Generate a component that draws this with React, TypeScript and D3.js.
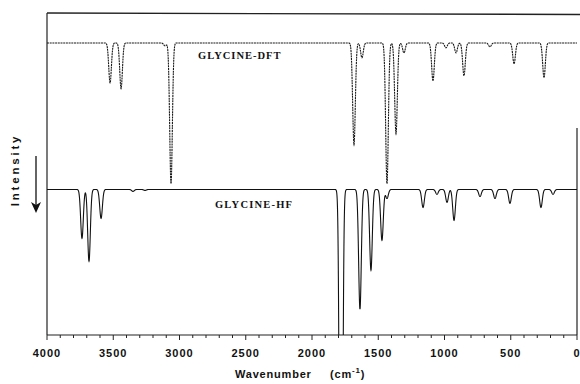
import React from "react";
import * as d3 from "d3";

// peak positions (cm-1) and depths (intensity units)
const dftWavenumbers = [3524, 3441, 3109, 3064, 1683, 1623, 1434, 1366, 1306, 1087, 989, 913, 853, 657, 475, 249];
const dftDepths = [12.4, 14.2, 0.9, 43.7, 31.6, 4.6, 43.7, 28.2, 3.1, 11.8, 1.5, 3.1, 10.2, 1.2, 6.5, 10.8];

const hfWavenumbers = [3736, 3683, 3592, 3351, 3260, 1781, 1638, 1555, 1472, 1434, 1162, 1057, 981, 928, 732, 619, 506, 272, 181];
const hfDepths = [15.2, 22.3, 9.0, 0.6, 0.3, 200, 37.2, 25.1, 15.8, 2.8, 5.6, 1.5, 4.0, 9.6, 2.2, 2.8, 4.3, 5.6, 1.5];

const dftBaseline = 90.7;
const hfBaseline = 45.2;

const xTickLabels = [4000, 3500, 3000, 2500, 2000, 1500, 1000, 500, 0];

const width = 580;
const height = 384;
const margin = { top: 13, right: 3, bottom: 49, left: 47 };
const sigma = 10; // band width, cm-1

function spectrum(centers: number[], depths: number[], baseline: number) {
  const pts: [number, number][] = [];
  for (let w = 4000; w >= 0; w -= 1) {
    let v = baseline;
    centers.forEach((c, i) => {
      const d = w - c;
      v -= depths[i] * Math.exp(-(d * d) / (2 * sigma * sigma));
    });
    pts.push([w, v]);
  }
  return pts;
}

export default function App() {
  const x = d3.scaleLinear().domain([4000, 0]).range([margin.left, width - margin.right]);
  const y = d3.scaleLinear().domain([0, 100]).range([height - margin.bottom, margin.top]);
  const x0 = margin.left;
  const x1 = width - margin.right;
  const yTop = margin.top;
  const yBot = height - margin.bottom;

  const line = d3
    .line<[number, number]>()
    .x(d => x(d[0]))
    .y(d => y(d[1]));

  const dftPath = line(spectrum(dftWavenumbers, dftDepths, dftBaseline)) || "";
  const hfPath = line(spectrum(hfWavenumbers, hfDepths, hfBaseline)) || "";

  const minorTicks = d3.range(0, 4001, 100);

  return (
    <svg
      width={width}
      height={height}
      style={{ position: "fixed", left: 0, top: 0, background: "#fff" }}
    >
      <defs>
        <clipPath id="plot">
          <rect x={x0} y={yTop} width={x1 - x0} height={yBot - yTop} />
        </clipPath>
      </defs>

      {/* frame */}
      <line x1={x0} x2={width} y1={yTop} y2={yTop + 1.5} stroke="#222" strokeWidth={1.4} />
      <line x1={x0} x2={x0} y1={yTop} y2={yBot} stroke="#222" strokeWidth={1.2} />
      <line x1={x0} x2={x1} y1={yBot} y2={yBot} stroke="#222" strokeWidth={1.2} />
      <line x1={x1} x2={x1} y1={128} y2={yBot} stroke="#222" strokeWidth={1.2} />

      {/* x ticks */}
      {minorTicks.map(t => (
        <line
          key={t}
          x1={x(t)}
          x2={x(t)}
          y1={yBot}
          y2={yBot + (t % 500 === 0 ? 5 : 3)}
          stroke="#222"
          strokeWidth={1}
        />
      ))}
      {xTickLabels.map(t => (
        <text
          key={t}
          x={x(t)}
          y={yBot + 22}
          textAnchor="middle"
          fontFamily="Liberation Sans, Arial, sans-serif"
          fontWeight="bold"
          fontSize={11}
          letterSpacing={1}
          fill="#111"
        >
          {t}
        </text>
      ))}

      {/* x label */}
      <text
        x={235}
        y={yBot + 43}
        fontFamily="Liberation Sans, Arial, sans-serif"
        fontWeight="bold"
        fontSize={11}
        letterSpacing={0.8}
        fill="#111"
      >
        Wavenumber
        <tspan x={330}>(cm</tspan>
        <tspan dy={-5} fontSize={8}>-1</tspan>
        <tspan dy={5}>)</tspan>
      </text>

      {/* y label + arrow */}
      <text
        transform={`translate(19,170) rotate(-90)`}
        textAnchor="middle"
        fontFamily="Liberation Sans, Arial, sans-serif"
        fontWeight="bold"
        fontSize={11.5}
        letterSpacing={2.8}
        fill="#111"
      >
        Intensity
      </text>
      <line x1={36} x2={36} y1={156} y2={208} stroke="#111" strokeWidth={1.3} />
      <path d="M31,202 L36,213 L41,202 L36,205 Z" fill="#111" />

      {/* spectra */}
      <g clipPath="url(#plot)">
        <path d={dftPath} fill="none" stroke="#1a1a1a" strokeWidth={1.1} strokeDasharray="2 0.7" />
        <path d={hfPath} fill="none" stroke="#111" strokeWidth={1.1} />
      </g>

      {/* trace labels */}
      <text
        x={198}
        y={59}
        fontFamily="Liberation Serif, Times New Roman, serif"
        fontWeight="bold"
        fontSize={10.5}
        letterSpacing={1}
        fill="#111"
      >
        GLYCINE-DFT
      </text>
      <text
        x={215}
        y={208}
        fontFamily="Liberation Serif, Times New Roman, serif"
        fontWeight="bold"
        fontSize={10.5}
        letterSpacing={1.2}
        fill="#111"
      >
        GLYCINE-HF
      </text>
    </svg>
  );
}
